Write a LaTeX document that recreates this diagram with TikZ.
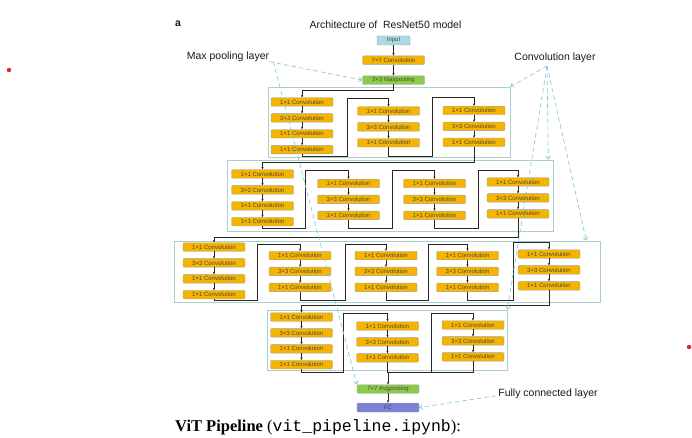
\documentclass[tikz,border=0pt]{standalone}
\usepackage{fontspec}
\setmainfont{Liberation Sans}
\newfontfamily\docserif{Liberation Serif}
\newfontfamily\docmono{Liberation Mono}
\usetikzlibrary{positioning,arrows.meta}

\definecolor{convorange}{HTML}{F5B400}
\definecolor{poolgreen}{HTML}{8CCB4A}
\definecolor{inputblue}{HTML}{A8DCE2}
\definecolor{fcblue}{HTML}{7E80D6}
\definecolor{boxedge}{HTML}{A0A0A0}
\definecolor{boxtext}{HTML}{484848}
\definecolor{framecol}{HTML}{A9CFD3}
\definecolor{calloutcol}{HTML}{86CDD5}
\definecolor{dotred}{HTML}{E8242A}

\begin{document}
\begin{tikzpicture}[
    x=1pt, y=-1pt,
    node distance=7pt,
    conv/.style={
        rectangle,
        draw=boxedge,
        line width=0.4pt,
        fill=convorange,
        rounded corners=1pt,
        minimum width=62pt,
        minimum height=8.5pt,
        inner sep=0pt,
        text=boxtext,
        font=\fontsize{6}{7}\selectfont
    },
    pool/.style={conv, fill=poolgreen},
    inbox/.style={conv, fill=inputblue, minimum width=33pt, minimum height=9pt},
    fcbox/.style={conv, fill=fcblue, minimum height=9pt},
    stage/.style={rectangle, draw=framecol, line width=0.6pt, inner sep=0pt},
    flow/.style={-{Stealth[length=2.6pt,width=2.2pt]}, line width=0.55pt, draw=black!85},
    callout/.style={-{Straight Barb[length=3pt,width=5pt]}, dashed, dash pattern=on 4.5pt off 3pt,
        line width=0.7pt, draw=calloutcol},
    label/.style={inner sep=0pt, anchor=base, font=\fontsize{10.5}{12}\selectfont, text=black!90}
]
\useasboundingbox (0,0) rectangle (692,438);

% stage frames
\node[stage, minimum width=242pt, minimum height=70pt] (stage1) at (389,122) {};
\node[stage, minimum width=326pt, minimum height=71pt] (stage2) at (390,195.5) {};
\node[stage, minimum width=426pt, minimum height=61pt] (stage3) at (387,271.5) {};
\node[stage, minimum width=240pt, minimum height=60pt] (stage4) at (387,340) {};

% texts
\node[label, font=\fontsize{10.5}{12}\selectfont\bfseries] (panel) at (178,26.7) {a};
\node[label] (title) at (385.5,28.3) {Architecture of \ ResNet50 model};
\node[label] (maxlabel) at (228,59.3) {Max pooling layer};
\node[label] (convlabel) at (555,61) {Convolution layer};
\node[label] (fclabel) at (548,396.5) {Fully connected layer};
\node[inner sep=0pt, anchor=base west, font=\fontsize{16.5}{18}\selectfont\docserif] (vit) at (175,431.5)
    {\textbf{ViT Pipeline} ({\docmono vit\_pipeline.ipynb}):};

% stem
\node[inbox] (input) at (393.5,40.5) {Input};
\node[conv, below=10.5pt of input] (conv7) {7×7 Convolution};
\node[pool, below=11pt of conv7] (maxpool) {3×3 Maxpooling};

% stage 1
\node[conv] (s1b1a) at (302,102) {1×1 Convolution};
\node[conv, below=of s1b1a] (s1b1b) {3×3 Convolution};
\node[conv, below=of s1b1b] (s1b1c) {1×1 Convolution};
\node[conv, below=of s1b1c] (s1b1d) {1×1 Convolution};
\node[conv] (s1b2a) at (388.5,111) {1×1 Convolution};
\node[conv, below=of s1b2a] (s1b2b) {3×3 Convolution};
\node[conv, below=of s1b2b] (s1b2c) {1×1 Convolution};
\node[conv] (s1b3a) at (474,110.5) {1×1 Convolution};
\node[conv, below=of s1b3a] (s1b3b) {3×3 Convolution};
\node[conv, below=of s1b3b] (s1b3c) {1×1 Convolution};

% stage 2
\node[conv] (s2b1a) at (262.5,174) {1×1 Convolution};
\node[conv, below=of s2b1a] (s2b1b) {3×3 Convolution};
\node[conv, below=of s2b1b] (s2b1c) {1×1 Convolution};
\node[conv, below=of s2b1c] (s2b1d) {1×1 Convolution};
\node[conv] (s2b2a) at (348.5,183.5) {1×1 Convolution};
\node[conv, below=of s2b2a] (s2b2b) {3×3 Convolution};
\node[conv, below=of s2b2b] (s2b2c) {1×1 Convolution};
\node[conv] (s2b3a) at (434.5,183.5) {1×1 Convolution};
\node[conv, below=of s2b3a] (s2b3b) {3×3 Convolution};
\node[conv, below=of s2b3b] (s2b3c) {1×1 Convolution};
\node[conv] (s2b4a) at (518,182) {1×1 Convolution};
\node[conv, below=of s2b4a] (s2b4b) {3×3 Convolution};
\node[conv, below=of s2b4b] (s2b4c) {1×1 Convolution};

% stage 3
\node[conv] (s3b1a) at (214,247) {1×1 Convolution};
\node[conv, below=of s3b1a] (s3b1b) {3×3 Convolution};
\node[conv, below=of s3b1b] (s3b1c) {1×1 Convolution};
\node[conv, below=of s3b1c] (s3b1d) {1×1 Convolution};
\node[conv] (s3b2a) at (300,255.5) {1×1 Convolution};
\node[conv, below=of s3b2a] (s3b2b) {3×3 Convolution};
\node[conv, below=of s3b2b] (s3b2c) {1×1 Convolution};
\node[conv] (s3b3a) at (386,255.5) {1×1 Convolution};
\node[conv, below=of s3b3a] (s3b3b) {3×3 Convolution};
\node[conv, below=of s3b3b] (s3b3c) {1×1 Convolution};
\node[conv] (s3b4a) at (467.5,255.5) {1×1 Convolution};
\node[conv, below=of s3b4a] (s3b4b) {3×3 Convolution};
\node[conv, below=of s3b4b] (s3b4c) {1×1 Convolution};
\node[conv] (s3b5a) at (549,254) {1×1 Convolution};
\node[conv, below=of s3b5a] (s3b5b) {3×3 Convolution};
\node[conv, below=of s3b5b] (s3b5c) {1×1 Convolution};

% stage 4
\node[conv] (s4b1a) at (301.5,317) {1×1 Convolution};
\node[conv, below=of s4b1a] (s4b1b) {3×3 Convolution};
\node[conv, below=of s4b1b] (s4b1c) {1×1 Convolution};
\node[conv, below=of s4b1c] (s4b1d) {1×1 Convolution};
\node[conv] (s4b2a) at (387.5,326) {1×1 Convolution};
\node[conv, below=of s4b2a] (s4b2b) {3×3 Convolution};
\node[conv, below=of s4b2b] (s4b2c) {1×1 Convolution};
\node[conv] (s4b3a) at (473,325) {1×1 Convolution};
\node[conv, below=of s4b3a] (s4b3b) {3×3 Convolution};
\node[conv, below=of s4b3b] (s4b3c) {1×1 Convolution};

% head
\node[pool] (avgpool) at (388,389) {7×7 Avgpooling};
\node[fcbox] (fc) at (388,407.5) {FC};

% flow inside blocks
\draw[flow] (input) -- (conv7);
\draw[flow] (conv7) -- (maxpool);
\draw[flow] (s1b1a) -- (s1b1b); \draw[flow] (s1b1b) -- (s1b1c); \draw[flow] (s1b1c) -- (s1b1d);
\draw[flow] (s1b2a) -- (s1b2b); \draw[flow] (s1b2b) -- (s1b2c);
\draw[flow] (s1b3a) -- (s1b3b); \draw[flow] (s1b3b) -- (s1b3c);
\draw[flow] (s2b1a) -- (s2b1b); \draw[flow] (s2b1b) -- (s2b1c); \draw[flow] (s2b1c) -- (s2b1d);
\draw[flow] (s2b2a) -- (s2b2b); \draw[flow] (s2b2b) -- (s2b2c);
\draw[flow] (s2b3a) -- (s2b3b); \draw[flow] (s2b3b) -- (s2b3c);
\draw[flow] (s2b4a) -- (s2b4b); \draw[flow] (s2b4b) -- (s2b4c);
\draw[flow] (s3b1a) -- (s3b1b); \draw[flow] (s3b1b) -- (s3b1c); \draw[flow] (s3b1c) -- (s3b1d);
\draw[flow] (s3b2a) -- (s3b2b); \draw[flow] (s3b2b) -- (s3b2c);
\draw[flow] (s3b3a) -- (s3b3b); \draw[flow] (s3b3b) -- (s3b3c);
\draw[flow] (s3b4a) -- (s3b4b); \draw[flow] (s3b4b) -- (s3b4c);
\draw[flow] (s3b5a) -- (s3b5b); \draw[flow] (s3b5b) -- (s3b5c);
\draw[flow] (s4b1a) -- (s4b1b); \draw[flow] (s4b1b) -- (s4b1c); \draw[flow] (s4b1c) -- (s4b1d);
\draw[flow] (s4b2a) -- (s4b2b); \draw[flow] (s4b2b) -- (s4b2c);
\draw[flow] (s4b3a) -- (s4b3b); \draw[flow] (s4b3b) -- (s4b3c);
\draw[flow] (avgpool) -- (fc);

% flow between blocks
\draw[flow] (maxpool.south) -- ++(0,6) -| (s1b1a.north);
\draw[flow] (s1b1d.south) |- (347,156) -- (347,98) -| (s1b2a.north);
\draw[flow] (s1b2c.south) |- (432,156) -- (432,97) -| (s1b3a.north);
\draw[flow] (s1b3c.south) -- (474,162) -| (s2b1a.north);
\draw[flow] (s2b1d.south) |- (305,228) -- (305,170) -| (s2b2a.north);
\draw[flow] (s2b2c.south) |- (392,228) -- (392,170) -| (s2b3a.north);
\draw[flow] (s2b3c.south) |- (478,228) -- (478,170) -| (s2b4a.north);
\draw[flow] (s2b4c.south) -- (518,237) -| (s3b1a.north);
\draw[flow] (s3b1d.south) |- (257,300) -- (257,244) -| (s3b2a.north);
\draw[flow] (s3b2c.south) |- (345,300) -- (345,244) -| (s3b3a.north);
\draw[flow] (s3b3c.south) |- (428,300) -- (428,244) -| (s3b4a.north);
\draw[flow] (s3b4c.south) |- (513,300) -- (513,242) -| (s3b5a.north);
\draw[flow] (s3b5c.south) -- (549,305) -| (s4b1a.north);
\draw[flow] (s4b1d.south) |- (343,372) -- (343,313) -| (s4b2a.north);
\draw[flow] (s4b2c.south) |- (431,372) -- (431,313) -| (s4b3a.north);
\draw[flow] (s4b3c.south) -- (473,372) -| (avgpool.north);

% callouts
\coordinate (convtip) at ([xshift=-8pt,yshift=-5pt]convlabel.base);
\draw[callout] (maxlabel.south east) -- (maxpool.west);
\draw[callout] ([xshift=4pt]maxlabel.south east) -- (avgpool.north west);
\draw[callout] (convtip) -- (stage1.north east);
\draw[callout] (convtip) -- ([xshift=-5pt]stage2.north east);
\draw[callout] (convtip) -- ([xshift=-14pt]stage3.north east);
\draw[callout] (convtip) -- (stage4.north east);
\draw[callout] ([xshift=-2pt,yshift=-2pt]fclabel.west) -- (fc.east);

% page marks
\fill[dotred] (9,70) circle (2.2pt);
\fill[dotred] (689,347) circle (2.2pt);
\end{tikzpicture}
\end{document}
